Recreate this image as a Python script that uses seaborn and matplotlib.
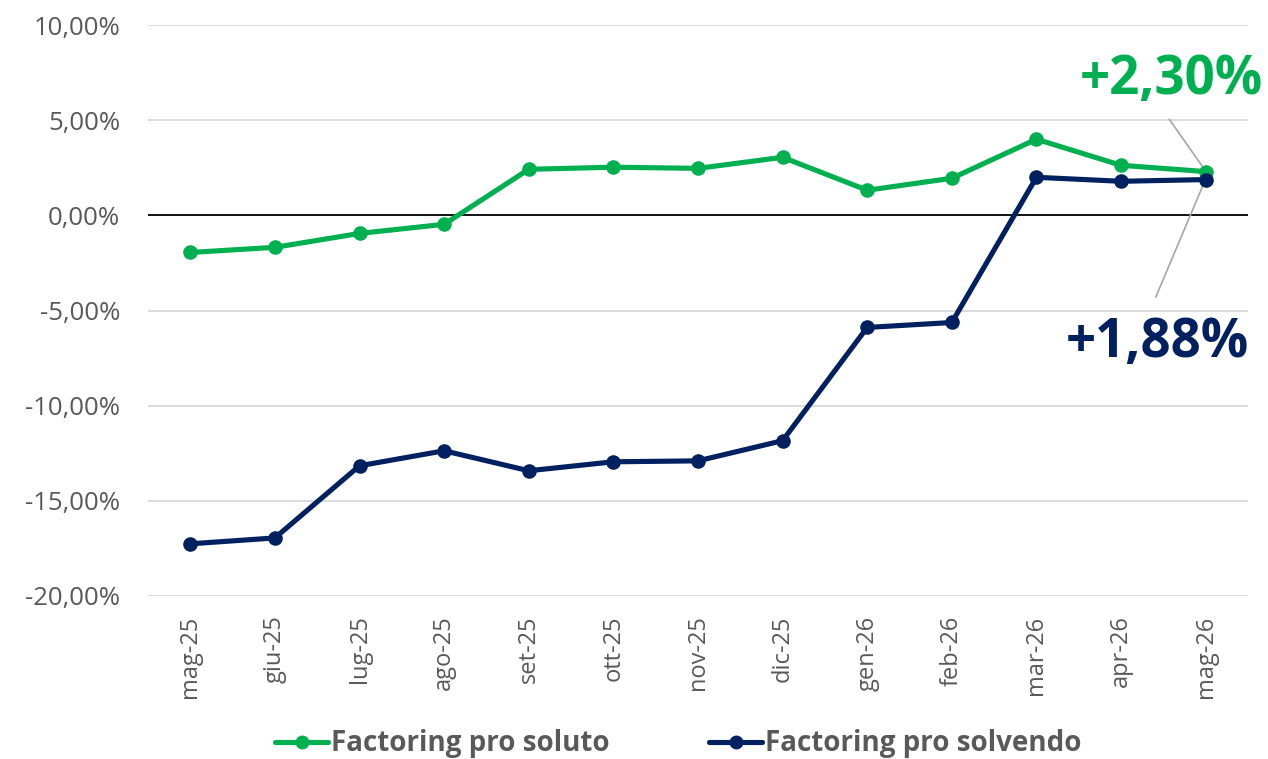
import numpy as np
import pandas as pd
import seaborn as sns
from matplotlib import pyplot as plt
from matplotlib.ticker import FuncFormatter
from matplotlib.lines import Line2D

# data
months = ['mag-25', 'giu-25', 'lug-25', 'ago-25', 'set-25', 'ott-25', 'nov-25',
          'dic-25', 'gen-26', 'feb-26', 'mar-26', 'apr-26', 'mag-26']
pro_soluto = [-1.95, -1.68, -0.95, -0.47, 2.42, 2.53, 2.47, 3.05, 1.32, 1.95, 4.0, 2.63, 2.30]
pro_solvendo = [-17.26, -16.95, -13.16, -12.37, -13.42, -12.95, -12.90, -11.84, -5.89, -5.63, 2.00, 1.79, 1.88]
series_names = ['Factoring pro soluto', 'Factoring pro solvendo']
series_colors = ['#00B050', '#002060']
end_labels = ['+2,30%', '+1,88%']

sns.set_theme(style='white')
plt.rcParams['font.family'] = ['Open Sans', 'DejaVu Sans']

df = pd.DataFrame({
    'idx': list(range(len(months))) * 2,
    'value': pro_soluto + pro_solvendo,
    'serie': [series_names[0]] * len(months) + [series_names[1]] * len(months),
})

fig = plt.figure(figsize=(12.68, 7.59), dpi=100)
ax = fig.add_axes([0.1167, 0.2148, 0.8675, 0.7522])

for y in [10, 5, -5, -10, -15, -20]:
    ax.axhline(y, color='#D9D9D9', lw=1.3, zorder=0)
ax.axhline(0, color='black', lw=1.3, zorder=1)

sns.lineplot(data=df, x='idx', y='value', hue='serie', palette=series_colors,
             marker='o', markersize=10.5, markeredgewidth=0, linewidth=3.7,
             ax=ax, legend=False, zorder=3)

ax.set_xlim(-0.5, len(months) - 0.5)
ax.set_ylim(-20, 10)
ax.set_yticks([10, 5, 0, -5, -10, -15, -20])
ax.yaxis.set_major_formatter(FuncFormatter(lambda v, p: ('%.2f%%' % v).replace('.', ',')))
ax.set_xticks(range(len(months)))
ax.set_xticklabels(months, rotation=90)
ax.tick_params(axis='y', colors='#595959', labelsize=18.5, length=0, pad=20)
ax.tick_params(axis='x', colors='#595959', labelsize=17, length=0, pad=14)
ax.set_xlabel('')
ax.set_ylabel('')
for s in ax.spines.values():
    s.set_visible(False)

# end-point callouts (figure pixels, origin bottom-left)
last = len(months) - 1
fig.text(1171 / 1268, (759 - 80) / 759, end_labels[0], color=series_colors[0],
         fontsize=38, fontweight='bold', ha='center', va='center')
fig.text(1157 / 1268, (759 - 343) / 759, end_labels[1], color=series_colors[1],
         fontsize=38, fontweight='bold', ha='center', va='center')
ax.plot([last - 0.43, last - 0.02], [5.05, 2.45], color='#A6A6A6', lw=1.2, zorder=2)
ax.plot([last - 0.59, last - 0.02], [-4.3, 1.7], color='#A6A6A6', lw=1.2, zorder=2)

# legend
handles = [Line2D([], [], color=c, lw=3.7, marker='o', markersize=9) for c in series_colors]
fig.legend(handles, series_names, loc='center', bbox_to_anchor=(0.535, 0.02), ncol=2,
           frameon=False, handlelength=1.9, handletextpad=0.1, columnspacing=3.6,
           prop={'size': 20, 'weight': 'bold'}, labelcolor='#595959')

fig.savefig('out.png', dpi=100)
